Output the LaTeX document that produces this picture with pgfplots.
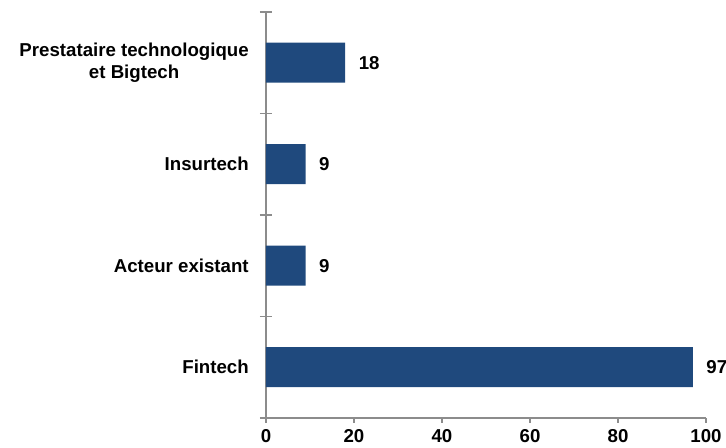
\documentclass[border=0pt]{standalone}
\usepackage{pgfplots}
\pgfplotsset{compat=1.18}
\usepackage{fontspec}
\setmainfont{Liberation Sans}
\definecolor{barblue}{RGB}{31,73,125}
\definecolor{axgray}{RGB}{140,140,140}
\begin{document}
\begin{tikzpicture}
\begin{axis}[
  scale only axis,
  width=330pt, height=304.5pt,
  xbar, bar width=30pt,
  xmin=0, xmax=100,
  ymin=-0.5, ymax=3.5,
  axis lines=left,
  axis line style={draw=axgray, line width=0.8pt, -},
  xtick={0,20,40,60,80,100},
  ytick={0,1,2,3},
  yticklabels={Fintech, Acteur existant, Insurtech, {Prestataire technologique\\et Bigtech}},
  minor ytick={-0.5,0.5,1.5,2.5,3.5},
  major tick length=3.75pt,
  minor tick length=9pt,
  tick style={draw=axgray, line width=0.8pt},
  ytick style={draw=none},
  yminorticks=true,
  minor y tick style={draw=axgray, line width=0.8pt, xshift=4.5pt},
  tick align=outside,
  /pgf/number format/assume math mode=true,
  font=\fontsize{14}{17}\selectfont\bfseries,
  ticklabel style={font=\fontsize{14}{17}\selectfont\bfseries, inner sep=0pt},
  yticklabel style={align=center, xshift=-9pt},
  xticklabel style={yshift=-4.5pt},
  nodes near coords,
  nodes near coords style={anchor=west, inner sep=0pt, xshift=10pt, font=\fontsize{14}{17}\selectfont\bfseries},
  clip=false,
]
\addplot[fill=barblue, draw=none] coordinates {(97,0) (9,1) (9,2) (18,3)};
\end{axis}
\pgfresetboundingbox
\path ([xshift=-199.5pt, yshift=-22.5pt]current axis.south west) rectangle ([xshift=15pt, yshift=9pt]current axis.north east);
\end{tikzpicture}
\end{document}
